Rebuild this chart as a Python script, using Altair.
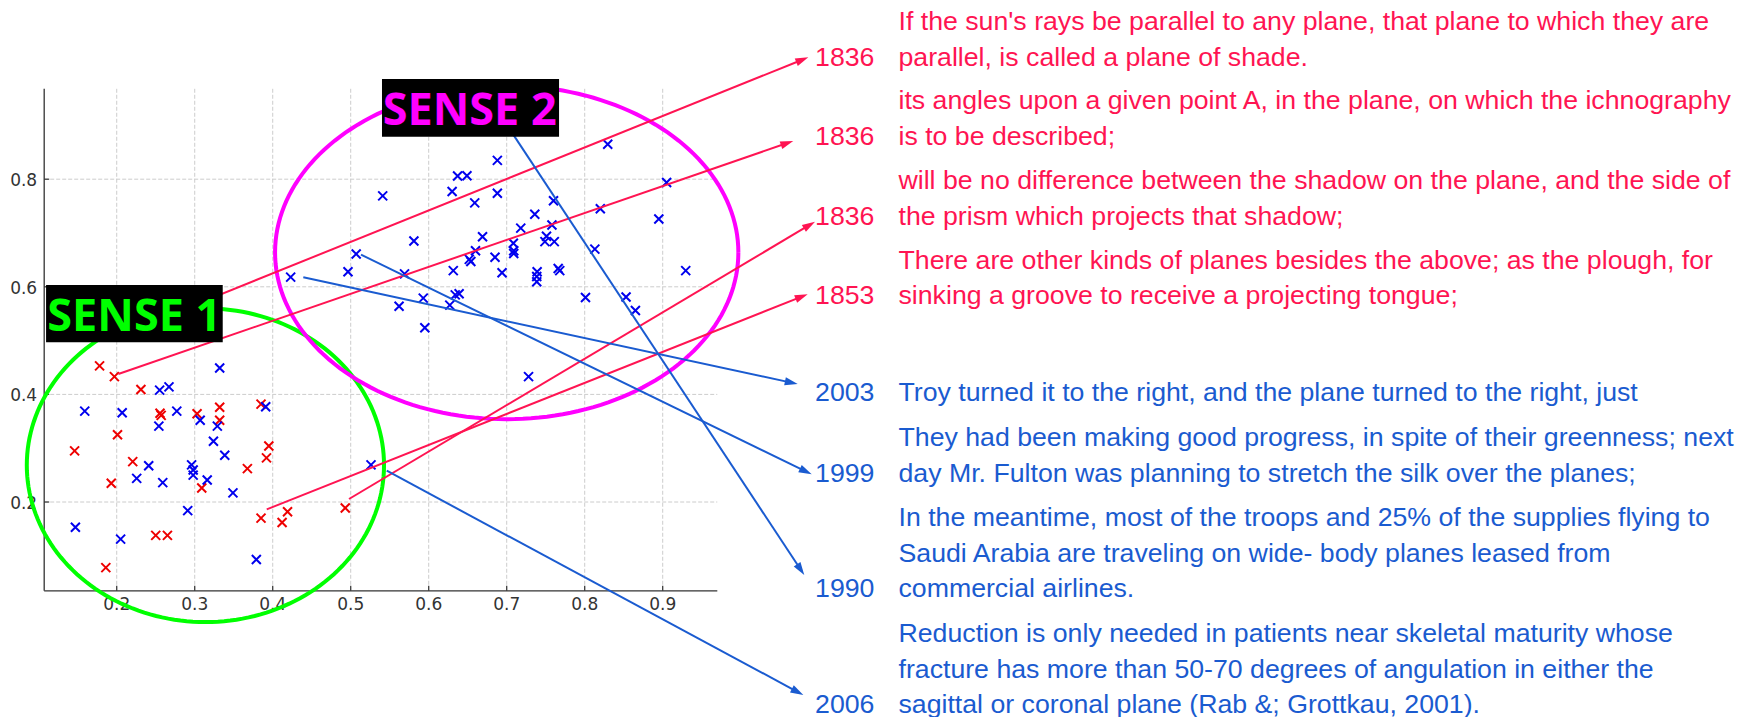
import math
import altair as alt
import pandas as pd

# ---------------- canvas / coordinate system ----------------
W, H = 1732, 709
X_DOMAIN = [0.0606, 2.2812]
Y_DOMAIN = [-0.1996, 1.1182]
KX = W / (X_DOMAIN[1] - X_DOMAIN[0])
KY = H / (Y_DOMAIN[1] - Y_DOMAIN[0])

XLIM = [0.107, 0.970]
YLIM = [0.035, 0.968]
XTICKS = [0.2, 0.3, 0.4, 0.5, 0.6, 0.7, 0.8, 0.9]
XTICK_LABELS = ["0.2", "0.3", "0.4", "0.5", "0.6", "0.7", "0.8", "0.9"]
YTICKS = [0.2, 0.4, 0.6, 0.8]
YTICK_LABELS = ["0.2", "0.4", "0.6", "0.8"]

# ---------------- scatter data ----------------
red_x = [0.178, 0.197, 0.231, 0.2555, 0.257, 0.303, 0.332, 0.332, 0.201, 0.146,
         0.2205, 0.193, 0.309, 0.3675, 0.392, 0.395, 0.385, 0.385, 0.412, 0.419,
         0.493, 0.250, 0.265, 0.186]
red_y = [0.453, 0.433, 0.409, 0.365, 0.361, 0.364, 0.376, 0.352, 0.325, 0.295,
         0.275, 0.235, 0.226, 0.262, 0.282, 0.304, 0.382, 0.170, 0.162, 0.182,
         0.189, 0.138, 0.138, 0.078]

blue_x = [0.159, 0.207, 0.255, 0.267, 0.277, 0.254, 0.332, 0.307, 0.329, 0.324,
          0.3385, 0.391, 0.241, 0.2256, 0.259, 0.296, 0.298, 0.298, 0.316, 0.349,
          0.291, 0.147, 0.205, 0.379, 0.526,
          0.423, 0.4965, 0.507, 0.541, 0.581, 0.569, 0.562, 0.593, 0.595, 0.630,
          0.637, 0.649, 0.688, 0.688, 0.659, 0.6315, 0.652, 0.654, 0.660, 0.669,
          0.627, 0.634, 0.639, 0.685, 0.694, 0.7085, 0.709, 0.709, 0.718, 0.736,
          0.739, 0.7385, 0.7385, 0.758, 0.751, 0.749, 0.761, 0.760, 0.766, 0.768,
          0.8295, 0.820, 0.813, 0.801, 0.853, 0.865, 0.895, 0.905, 0.9295, 0.728]
blue_y = [0.369, 0.366, 0.408, 0.414, 0.369, 0.341, 0.449, 0.352, 0.341, 0.313,
          0.287, 0.377, 0.2675, 0.244, 0.236, 0.269, 0.2595, 0.250, 0.241, 0.217,
          0.184, 0.153, 0.131, 0.093, 0.269,
          0.618, 0.628, 0.661, 0.769, 0.685, 0.624, 0.564, 0.579, 0.524, 0.777,
          0.806, 0.8065, 0.835, 0.774, 0.756, 0.630, 0.651, 0.647, 0.667, 0.693,
          0.566, 0.585, 0.587, 0.655, 0.626, 0.681, 0.667, 0.662, 0.709, 0.735,
          0.628, 0.619, 0.6095, 0.715, 0.694, 0.684, 0.684, 0.760, 0.634, 0.630,
          0.865, 0.745, 0.670, 0.580, 0.581, 0.556, 0.726, 0.794, 0.630, 0.433]

# ---------------- sense ellipses (center x, center y, width, height) ----------------
ELLIPSE_1 = (0.3137, 0.2684, 0.458, 0.583)
ELLIPSE_2 = (0.700, 0.6639, 0.594, 0.620)

# ---------------- sense labels ----------------
sense_labels = ["SENSE 1", "SENSE 2"]
sense_box_x0 = [0.1094, 0.5401]
sense_box_x1 = [0.3359, 0.7671]
sense_box_y0 = [0.4968, 0.8790]
sense_box_y1 = [0.6033, 0.9862]
sense_text_x = [0.1110, 0.5410]
sense_text_y = [0.5184, 0.9007]

# ---------------- example sentences ----------------
TEXT_X = 1.2023
YEAR_X = 1.0953

red_lines = [
    "If the sun's rays be parallel to any plane, that plane to which they are",
    "parallel, is called a plane of shade.",
    "its angles upon a given point A, in the plane, on which the ichnography",
    "is to be described;",
    "will be no difference between the shadow on the plane, and the side of",
    "the prism which projects that shadow;",
    "There are other kinds of planes besides the above; as the plough, for",
    "sinking a groove to receive a projecting tongue;",
]
red_line_y = [1.0779, 1.0110, 0.9305, 0.8630, 0.7818, 0.7145, 0.6331, 0.5675]
red_years = ["1836", "1836", "1836", "1853"]
red_year_y = [1.0110, 0.8630, 0.7145, 0.5675]

blue_lines = [
    "Troy turned it to the right, and the plane turned to the right, just",
    "They had been making good progress, in spite of their greenness; next",
    "day Mr. Fulton was planning to stretch the silk over the planes;",
    "In the meantime, most of the troops and 25% of the supplies flying to",
    "Saudi Arabia are traveling on wide- body planes leased from",
    "commercial airlines.",
    "Reduction is only needed in patients near skeletal maturity whose",
    "fracture has more than 50-70 degrees of angulation in either the",
    "sagittal or coronal plane (Rab &; Grottkau, 2001).",
]
blue_line_y = [0.3877, 0.3046, 0.2377, 0.1559, 0.0890, 0.0229, -0.0597, -0.1262, -0.1922]
blue_years = ["2003", "1999", "1990", "2006"]
blue_year_y = [0.3877, 0.2377, 0.0229, -0.1922]

# ---------------- annotation arrows (start -> tip) ----------------
red_start_x = [0.2555, 0.2021, 0.4978, 0.3923]
red_start_y = [0.5405, 0.4379, 0.2056, 0.1864]
red_tip_x = [1.0867, 1.0674, 1.0953, 1.0859]
red_tip_y = [1.0266, 0.8710, 0.7210, 0.5861]

blue_start_x = [0.4392, 0.5132, 0.6876, 0.5462]
blue_start_y = [0.6177, 0.6597, 0.9286, 0.2582]
blue_tip_x = [1.0731, 1.0910, 1.0815, 1.0803]
blue_tip_y = [0.4193, 0.2515, 0.0643, -0.1587]

# ---------------- styles ----------------
RED_PT = "#ee0000"
BLUE_PT = "#0000ee"
RED_ANN = "#ff1452"
BLUE_ANN = "#1a5bd0"
GREEN = "#00ff00"
MAGENTA = "#ff00ff"
AX_COLOR = "#333333"
GRID_COLOR = "#cccccc"
TEXT_FONT = "Liberation Sans"
TEXT_SIZE = 26.7
SENSE_FONT = "Open Sans, Noto Sans, sans-serif"
X_SHAPE = "M-1,-1L1,1M-1,1L1,-1"
HEAD_LEN = 13
HEAD_SHAPE = "M0,0L0.31,1L-0.31,1Z"

SX = alt.Scale(domain=X_DOMAIN, nice=False, zero=False)
SY = alt.Scale(domain=Y_DOMAIN, nice=False, zero=False)


def ex(f):
    return alt.X(f, type="quantitative", scale=SX, axis=None)


def ey(f):
    return alt.Y(f, type="quantitative", scale=SY, axis=None)


layers = []

# grid
grid_v = pd.DataFrame({"x": XTICKS, "y0": YLIM[0], "y1": YLIM[1]})
grid_h = pd.DataFrame({"y": YTICKS, "x0": XLIM[0], "x1": XLIM[1]})
layers.append(alt.Chart(grid_v).mark_rule(color=GRID_COLOR, strokeWidth=1, strokeDash=[4, 2])
              .encode(x=ex("x"), y=ey("y0"), y2="y1"))
layers.append(alt.Chart(grid_h).mark_rule(color=GRID_COLOR, strokeWidth=1, strokeDash=[4, 2])
              .encode(y=ey("y"), x=ex("x0"), x2="x1"))

# axis lines
axes_df = pd.DataFrame({"x0": [XLIM[0], XLIM[0]], "x1": [XLIM[1], XLIM[0]],
                        "y0": [YLIM[0], YLIM[0]], "y1": [YLIM[0], YLIM[1]]})
layers.append(alt.Chart(axes_df).mark_rule(color=AX_COLOR, strokeWidth=1.3)
              .encode(x=ex("x0"), x2="x1", y=ey("y0"), y2="y1"))

# ticks and tick labels
xt = pd.DataFrame({"x": XTICKS, "y": YLIM[0], "label": XTICK_LABELS})
yt = pd.DataFrame({"y": YTICKS, "x": XLIM[0], "label": YTICK_LABELS})
layers.append(alt.Chart(xt).mark_point(shape="M0,0L0,-1", size=100, filled=False, color=AX_COLOR,
                                       strokeWidth=1.2, opacity=1)
              .encode(x=ex("x"), y=ey("y")))
layers.append(alt.Chart(yt).mark_point(shape="M0,0L1,0", size=100, filled=False, color=AX_COLOR,
                                       strokeWidth=1.2, opacity=1)
              .encode(x=ex("x"), y=ey("y")))
layers.append(alt.Chart(xt).mark_text(font="DejaVu Sans", fontSize=17, color=AX_COLOR,
                                      align="center", baseline="top", dy=6)
              .encode(x=ex("x"), y=ey("y"), text="label:N"))
layers.append(alt.Chart(yt).mark_text(font="DejaVu Sans", fontSize=17, color=AX_COLOR,
                                      align="right", baseline="middle", dx=-7, dy=2)
              .encode(x=ex("x"), y=ey("y"), text="label:N"))

# scatter points
layers.append(alt.Chart(pd.DataFrame({"x": red_x, "y": red_y}))
              .mark_point(shape=X_SHAPE, size=81, filled=False, strokeWidth=2, color=RED_PT, opacity=1)
              .encode(x=ex("x"), y=ey("y")))
layers.append(alt.Chart(pd.DataFrame({"x": blue_x, "y": blue_y}))
              .mark_point(shape=X_SHAPE, size=81, filled=False, strokeWidth=2, color=BLUE_PT, opacity=1)
              .encode(x=ex("x"), y=ey("y")))


# ellipses
def ellipse_layer(params, color):
    cx, cy, w, h = params
    return (alt.Chart(alt.sequence(0, 361, 2, as_="t"))
            .transform_calculate(ex_=f"{cx} + {w / 2} * cos(datum.t * PI / 180)",
                                 ey_=f"{cy} + {h / 2} * sin(datum.t * PI / 180)")
            .mark_line(color=color, strokeWidth=4)
            .encode(x=ex("ex_"), y=ey("ey_"), order="t:Q"))


layers.append(ellipse_layer(ELLIPSE_1, GREEN))
layers.append(ellipse_layer(ELLIPSE_2, MAGENTA))


# arrows
def arrow_layers(sx, sy, tx, ty, color):
    rows = []
    for a, b, c, d in zip(sx, sy, tx, ty):
        dxp = (c - a) * KX
        dyp = (d - b) * KY
        n = math.hypot(dxp, dyp)
        ux, uy = dxp / n, dyp / n
        back = HEAD_LEN * 0.6
        rows.append({"x0": a, "y0": b,
                     "x1": c - ux * back / KX, "y1": d - uy * back / KY,
                     "tx": c, "ty": d,
                     "ang": math.degrees(math.atan2(dxp, dyp)) % 360})
    df = pd.DataFrame(rows)
    line = (alt.Chart(df).mark_rule(color=color, strokeWidth=2)
            .encode(x=ex("x0"), y=ey("y0"), x2="x1", y2="y1"))
    head = (alt.Chart(df).mark_point(shape=HEAD_SHAPE, size=(2 * HEAD_LEN) ** 2, filled=True,
                                     color=color, opacity=1, strokeWidth=0)
            .encode(x=ex("tx"), y=ey("ty"), angle=alt.Angle("ang:Q", scale=None)))
    return [line, head]


layers += arrow_layers(red_start_x, red_start_y, red_tip_x, red_tip_y, RED_ANN)
layers += arrow_layers(blue_start_x, blue_start_y, blue_tip_x, blue_tip_y, BLUE_ANN)

# sense boxes and labels
sense_df = pd.DataFrame({"label": sense_labels, "x0": sense_box_x0, "x1": sense_box_x1,
                         "y0": sense_box_y0, "y1": sense_box_y1,
                         "tx": sense_text_x, "ty": sense_text_y})
layers.append(alt.Chart(sense_df).mark_rect(color="#000000")
              .encode(x=ex("x0"), x2="x1", y=ey("y0"), y2="y1"))
layers.append(alt.Chart(sense_df).mark_text(font=SENSE_FONT, fontSize=45, fontWeight="bold",
                                            align="left", baseline="alphabetic")
              .encode(x=ex("tx"), y=ey("ty"), text="label:N",
                      color=alt.Color("label:N", scale=alt.Scale(domain=sense_labels,
                                                                 range=[GREEN, MAGENTA]),
                                      legend=None)))


# texts
def text_layer(texts, xs, ys, color):
    df = pd.DataFrame({"t": texts, "x": xs, "y": ys})
    return (alt.Chart(df).mark_text(font=TEXT_FONT, fontSize=TEXT_SIZE, color=color,
                                    align="left", baseline="alphabetic")
            .encode(x=ex("x"), y=ey("y"), text="t:N"))


layers.append(text_layer(red_lines, [TEXT_X] * len(red_lines), red_line_y, RED_ANN))
layers.append(text_layer(red_years, [YEAR_X] * len(red_years), red_year_y, RED_ANN))
layers.append(text_layer(blue_lines, [TEXT_X] * len(blue_lines), blue_line_y, BLUE_ANN))
layers.append(text_layer(blue_years, [YEAR_X] * len(blue_years), blue_year_y, BLUE_ANN))

chart = (alt.layer(*layers)
         .properties(width=W, height=H, padding=0,
                     autosize=alt.AutoSizeParams(type="none"))
         .configure_view(strokeOpacity=0))

chart.save("out.html", embed_options={"renderer": "svg", "actions": False})
